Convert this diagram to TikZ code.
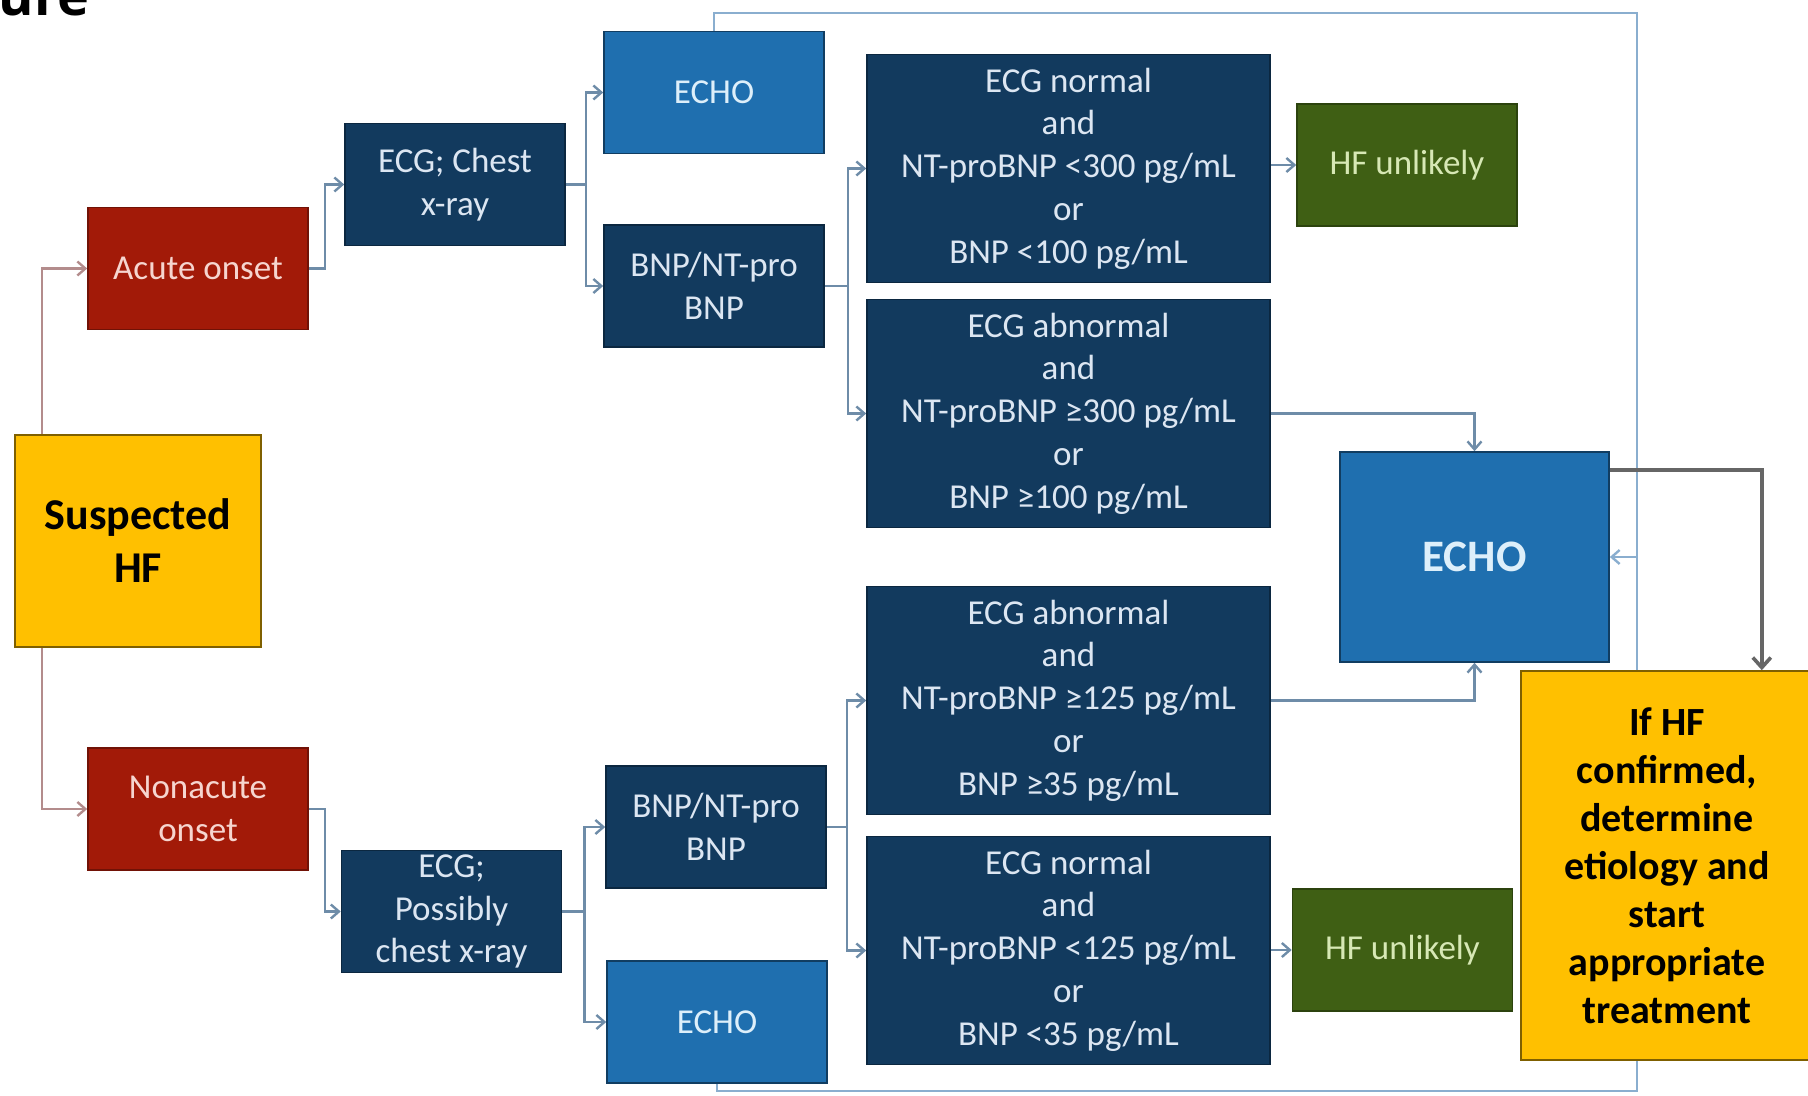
\documentclass[tikz,border=0pt]{standalone}
\usepackage{fontspec}
\setmainfont{Carlito}
\newfontfamily\headfont{Open Sans}
\usetikzlibrary{arrows.meta,backgrounds}

\definecolor{hfyellow}{HTML}{FFC000}
\definecolor{hfyellowedge}{HTML}{7F6000}
\definecolor{onsetred}{HTML}{A21A08}
\definecolor{onsetredtext}{HTML}{F6D5CF}
\definecolor{testnavy}{HTML}{123A5E}
\definecolor{testnavyedge}{HTML}{0B2740}
\definecolor{testnavytext}{HTML}{DCE6F2}
\definecolor{echoblue}{HTML}{1F6FAF}
\definecolor{echobluetext}{HTML}{DDEFFA}
\definecolor{unlgreen}{HTML}{3F5F14}
\definecolor{unlgreentext}{HTML}{D7E8B5}
\definecolor{connblue}{HTML}{6E8CA8}
\definecolor{connred}{HTML}{B38C8C}
\definecolor{framecol}{HTML}{8AAECF}
\definecolor{conngray}{HTML}{666666}

\begin{document}
\begin{tikzpicture}[
        x=0.5pt, y=-0.5pt,
        every node/.style={
            rectangle,
            line width=0.8pt,
            minimum width=110pt,
            minimum height=61pt,
            inner xsep=2pt,
            inner ysep=0pt,
            align=center,
            font=\fontsize{17.5}{21.35}\selectfont
        },
        navybox/.style={fill=testnavy, draw=testnavyedge, text=testnavytext},
        condbox/.style={navybox, minimum width=201.5pt, minimum height=114pt},
        echobox/.style={fill=echoblue, draw=testnavyedge!70!echoblue, text=echobluetext},
        redbox/.style={fill=onsetred, draw=onsetred!70!black, text=onsetredtext},
        greenbox/.style={fill=unlgreen, draw=unlgreen!70!black, text=unlgreentext},
        yellowbox/.style={fill=hfyellow, draw=hfyellowedge, text=black},
        conn/.style={draw=connblue, line width=1.2pt},
        connarrow/.style={conn, -{Straight Barb[length=4pt,width=7pt]}},
        redarrow/.style={draw=connred, line width=1.2pt, -{Straight Barb[length=4pt,width=7pt]}},
        framearrow/.style={draw=framecol, line width=1.2pt, -{Straight Barb[length=4pt,width=7pt]}},
        grayarrow/.style={draw=conngray, line width=1.8pt, -{Straight Barb[length=5pt,width=9pt]}}
    ]
    \useasboundingbox (0,0) rectangle (1808,1096);

    % Title (cut at the top)
    \node[anchor=base west, inner sep=0pt, minimum width=0pt, minimum height=0pt,
          font=\headfont\fontsize{27}{30}\selectfont\bfseries] (title) at (-2,16) {ure};

    % Boxes
    \node[yellowbox, minimum width=123pt, minimum height=106pt,
          font=\fontsize{22}{26.5}\selectfont\bfseries] (susp) at (138,541) {Suspected\\HF};
    \node[redbox]  (acute)    at (198,268.5) {Acute onset};
    \node[redbox]  (nonacute) at (198,809)   {Nonacute\\onset};
    \node[navybox] (ecgA)     at (455,184.5) {ECG; Chest\\x-ray};
    \node[navybox] (ecgN)     at (451.5,911.5) {ECG;\\Possibly\\chest x-ray};
    \node[echobox] (echoA)    at (714,92.5)  {ECHO};
    \node[navybox] (bnpA)     at (714,286)   {BNP/NT-pro\\BNP};
    \node[navybox] (bnpN)     at (716,827)   {BNP/NT-pro\\BNP};
    \node[echobox] (echoN)    at (717,1022)  {ECHO};

    \node[condbox] (condA1) at (1068.5,168.5) {ECG normal\\and\\NT-proBNP <300 pg/mL\\or\\BNP <100 pg/mL};
    \node[condbox] (condA2) at (1068.5,413.5) {ECG abnormal\\and\\NT-proBNP ≥300 pg/mL\\or\\BNP ≥100 pg/mL};
    \node[condbox] (condN1) at (1068.5,700.5) {ECG abnormal\\and\\NT-proBNP ≥125 pg/mL\\or\\BNP ≥35 pg/mL};
    \node[condbox] (condN2) at (1068.5,950.5) {ECG normal\\and\\NT-proBNP <125 pg/mL\\or\\BNP <35 pg/mL};

    \node[greenbox] (unlA) at (1407,165)   {HF unlikely};
    \node[greenbox] (unlN) at (1402.5,950) {HF unlikely};

    \node[echobox, minimum width=134.5pt, minimum height=105pt,
          font=\fontsize{22.5}{27}\selectfont\bfseries] (echoC) at (1474.5,557) {ECHO};
    \node[yellowbox, minimum width=146pt, minimum height=194.5pt,
          font=\fontsize{20}{24}\selectfont\bfseries] (conf) at (1667,865.5)
          {If HF\\confirmed,\\determine\\etiology and\\start\\appropriate\\treatment};

    \coordinate (frTR) at (1637,13);
    \coordinate (frBR) at (1637,1091);

    % Connectors
    \begin{scope}[on background layer]
    \draw[redarrow] ([xshift=14pt]susp.north west) |- (acute);
    \draw[redarrow] ([xshift=14pt]susp.south west) |- (nonacute);

    \draw[connarrow] (acute.east) -- ++(16,0) |- (ecgA);
    \draw[connarrow] (nonacute.east) -- ++(16,0) |- (ecgN);

    \draw[conn] (ecgA.east) -- ++(20,0) coordinate (jA);
    \draw[connarrow] (jA) |- (echoA);
    \draw[connarrow] (jA) |- (bnpA);

    \draw[conn] (ecgN.east) -- ++(22,0) coordinate (jN);
    \draw[connarrow] (jN) |- (bnpN);
    \draw[connarrow] (jN) |- (echoN);

    \draw[conn] (bnpA.east) -- ++(23,0) coordinate (kA);
    \draw[connarrow] (kA) |- (condA1);
    \draw[connarrow] (kA) |- (condA2);

    \draw[conn] (bnpN.east) -- ++(20,0) coordinate (kN);
    \draw[connarrow] (kN) |- (condN1);
    \draw[connarrow] (kN) |- (condN2);

    \draw[connarrow] (condA1.east |- unlA) -- (unlA);
    \draw[connarrow] (condN2.east |- unlN) -- (unlN);
    \draw[connarrow] (condA2.east) -| (echoC.north);
    \draw[connarrow] (condN1.east) -| (echoC.south);

    % Loop back to ECHO
    \draw[draw=framecol, line width=1.2pt] (echoA.north) |- (frTR) -- (frBR) -| (echoN.south);
    \draw[framearrow] (echoC.east -| frTR) -- (echoC.east);

    \draw[grayarrow] ([yshift=-9.5pt]echoC.north east) -| ([xshift=-26pt]conf.north east);
    \end{scope}

\end{tikzpicture}
\end{document}
